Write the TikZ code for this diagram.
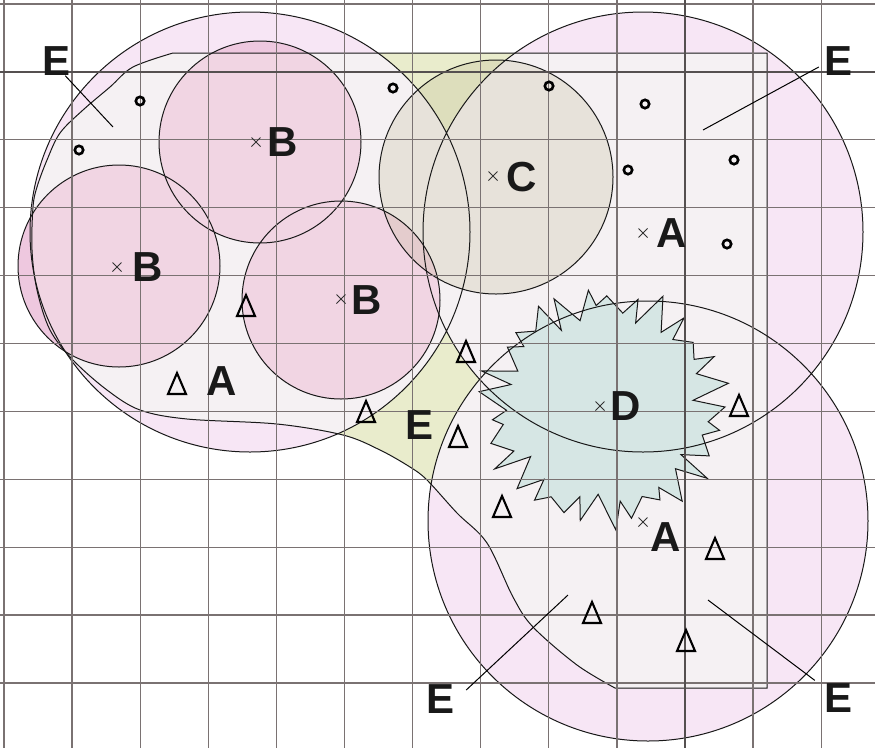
\documentclass[tikz,border=0pt]{standalone}
\usepackage{fontspec}
\usepackage{xcolor}
\usepackage{tikz}
\usetikzlibrary{positioning}
\newfontfamily\labelfont{Liberation Sans}
\definecolor{zonepink}{RGB}{247,230,245}
\definecolor{zonelight}{RGB}{245,241,243}
\definecolor{gapyellow}{RGB}{233,236,204}
\definecolor{bpink}{RGB}{241,213,227}
\definecolor{bdeep}{RGB}{238,200,223}
\definecolor{colive}{RGB}{185,178,135}
\definecolor{dteal}{RGB}{214,230,228}
\definecolor{gridgrey}{RGB}{122,114,114}

% study area outline (picture units, y downwards)
\newcommand{\studyarea}{(767,53) -- (767,688) -- (615,688)
  -- plot[smooth, tension=0.55] coordinates {(615,688) (577,665) (533,627) (513,597)
  (487,543) (457,513) (427,480) (410,467) (380,450) (343,435) (277,424) (187,419)
  (140,410) (107,390) (73,360) (50,330) (37,290) (32,250) (33,207) (37,187) (47,160)
  (60,133) (83,110) (110,87) (133,67) (173,53)} -- cycle}
% jagged outline of D
\newcommand{\dstar}{plot[variable=\t, samples at={0,...,57}]
  ({604+121*(1-0.19*mod(\t,2)+0.05*sin(137*\t)+0.03*sin(61*\t))*cos(360/58*\t+2.2*sin(97*\t))},
   {407+116*(1-0.19*mod(\t,2)+0.05*sin(137*\t)+0.03*sin(61*\t))*sin(360/58*\t+2.2*sin(97*\t))}) -- cycle}
\newcommand{\bcircles}{(260,142) circle[radius=101] (119,266) circle[radius=101] (341,300) circle[radius=99]}

\begin{document}
\begin{tikzpicture}[
  x=1pt, y=-1pt,
  rim/.style={draw=black!90, line width=1pt},
  gridline/.style={draw=gridgrey, line width=1.3pt},
  axisline/.style={draw=gridgrey!70!black, line width=2.6pt},
  leader/.style={draw=black, line width=1pt},
  ring/.style={draw=black, line width=2.6pt},
  tri/.style={draw=black, line width=2.1pt, line join=miter},
  xmark/.style={draw=black!80, line width=0.8pt},
  zlabel/.style={font=\labelfont\bfseries\fontsize{42}{42}\selectfont, inner sep=0pt, text=black!90},
]
\useasboundingbox (0,0) rectangle (875,748);
\fill[white] (0,0) rectangle (875,748);

% buffer zones
\fill[zonepink] (250,232) circle[radius=220] (643,232) circle[radius=220] (648,521) circle[radius=220];
\fill[bdeep] \bcircles;
\begin{scope}
  \clip \studyarea;
  \fill[gapyellow] (0,0) rectangle (875,748);
  \fill[zonelight] (250,232) circle[radius=220] (643,232) circle[radius=220] (648,521) circle[radius=220];
  \fill[bpink] \bcircles;
\end{scope}

% C and D areas
\fill[colive, fill opacity=0.23] (496,177) circle[radius=117];
\path[fill=dteal, rim] \dstar;

% outlines
\draw[rim] (250,232) circle[radius=220] (643,232) circle[radius=220] (648,521) circle[radius=220];
\draw[rim] \bcircles;
\draw[rim] (496,177) circle[radius=117];
\draw[rim] \studyarea;

% grid
\foreach \k in {0,...,12}
  \draw[gridline] ({4+68.1*\k},0) -- ({4+68.1*\k},748);
\foreach \k in {0,...,10}
  \draw[gridline] (0,{4+67.9*\k}) -- (875,{4+67.9*\k});
\draw[axisline] (0,72) -- (875,72);
\draw[axisline] (685,0) -- (685,748);

% point records
\foreach \px/\py in {140/101, 79/150, 393/88, 549/86, 645/104, 628/170, 734/160, 727/244}
  \draw[ring] (\px,\py) circle[radius=4.2];
\foreach \px/\py in {246/306, 177/384, 366/412, 466/352, 458/437, 739/406, 502/507, 715/549, 592/613, 686/641}
  \draw[tri] (\px-9,\py+10) -- (\px,\py-11) -- (\px+9,\py+10) -- cycle;
\foreach \px/\py in {256/142, 117/267, 341/299, 493/176, 643/233, 600/406, 643/522}
  \draw[xmark] (\px-4.5,\py-4.5) -- (\px+4.5,\py+4.5) (\px-4.5,\py+4.5) -- (\px+4.5,\py-4.5);

% labels
\node[zlabel] (labB1) at (283,142) {B};
\node[zlabel] (labB2) at (148,267) {B};
\node[zlabel] (labB3) at (367,300) {B};
\node[zlabel] (labC) at (522,177) {C};
\node[zlabel] (labA1) at (672,233) {A};
\node[zlabel] (labD) at (626,406) {D};
\node[zlabel] (labA2) at (666,537) {A};
\node[zlabel] (labA3) at (222,381) {A};
\node[zlabel] (labE1) at (57,61) {E};
\node[zlabel] (labE2) at (838,61) {E};
\node[zlabel] (labE3) at (420,425) {E};
\node[zlabel] (labE4) at (441,699) {E};
\node[zlabel] (labE5) at (838,698) {E};

\coordinate (tipE1) at (113,127);
\coordinate (tipE2) at (703,130);
\coordinate (tipE4) at (568,595);
\coordinate (tipE5) at (708,600);
\draw[leader] ([xshift=-6pt]labE1.south east) -- (tipE1);
\draw[leader] ([xshift=-5pt,yshift=-6pt]labE2.west) -- (tipE2);
\draw[leader] ([xshift=11pt,yshift=9pt]labE4.east) -- (tipE4);
\draw[leader] ([xshift=-9pt,yshift=3pt]labE5.north west) -- (tipE5);

\end{tikzpicture}
\end{document}
